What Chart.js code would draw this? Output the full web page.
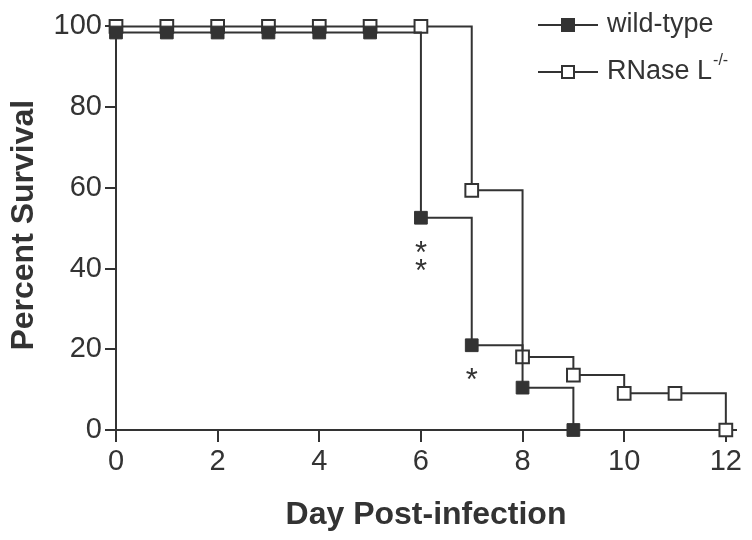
<!DOCTYPE html>
<html>
<head>
<meta charset="utf-8">
<script src="https://cdn.jsdelivr.net/npm/chart.js@4/dist/chart.umd.min.js"></script>
<style>
  html, body { margin: 0; padding: 0; background: #fff; }
</style>
</head>
<body>
<canvas id="chart" width="752" height="540"></canvas>
<script>
// survival data
const wtDays = [0, 1, 2, 3, 4, 5, 6, 7, 8, 9];
const wtSurvival = [98.5, 98.5, 98.5, 98.5, 98.5, 98.5, 52.6, 21.0, 10.5, 0];
const wtStars = ["", "", "", "", "", "", "**", "*", "", ""];
const koDays = [0, 1, 2, 3, 4, 5, 6, 7, 8, 9, 10, 11, 12];
const koSurvival = [100, 100, 100, 100, 100, 100, 100, 59.4, 18.1, 13.6, 9.1, 9.1, 0];
const xTicks = [0, 2, 4, 6, 8, 10, 12];
const yTicks = [0, 20, 40, 60, 80, 100];
const seriesNames = ["wild-type", "RNase L"];

const ink = "#333333";
const FONT = "'Liberation Sans', Arial, Helvetica, sans-serif";

function toPoints(days, vals) {
  return days.map((d, i) => ({ x: d, y: vals[i] }));
}

// asterisks under the wild-type points
const starPlugin = {
  id: "stars",
  afterDatasetsDraw(chart) {
    const meta = chart.getDatasetMeta(0);
    const ctx = chart.ctx;
    ctx.save();
    ctx.fillStyle = ink;
    ctx.font = "31px " + FONT;
    ctx.textAlign = "center";
    ctx.textBaseline = "alphabetic";
    wtStars.forEach((s, i) => {
      const pt = meta.data[i];
      for (let k = 0; k < s.length; k++) {
        ctx.fillText(s[k], pt.x, pt.y + 28 + k * 18 + 17);
      }
    });
    ctx.restore();
  }
};

// legend: line with marker through it, like the original figure
const legendPlugin = {
  id: "sketchLegend",
  afterDraw(chart) {
    const ctx = chart.ctx;
    const rows = [
      { y: 25, fill: ink, name: seriesNames[0], sup: "" },
      { y: 72, fill: "#ffffff", name: seriesNames[1], sup: "-/-" }
    ];
    ctx.save();
    rows.forEach(r => {
      ctx.strokeStyle = ink;
      ctx.lineWidth = 2;
      ctx.beginPath();
      ctx.moveTo(538, r.y);
      ctx.lineTo(598, r.y);
      ctx.stroke();
      ctx.fillStyle = r.fill;
      ctx.fillRect(562, r.y - 6, 12, 12);
      ctx.strokeRect(562, r.y - 6, 12, 12);
      ctx.fillStyle = ink;
      ctx.font = "27px " + FONT;
      ctx.textAlign = "left";
      ctx.textBaseline = "middle";
      ctx.fillText(r.name, 607, r.y);
      if (r.sup) {
        const w = ctx.measureText(r.name).width;
        ctx.font = "16px " + FONT;
        ctx.fillText(r.sup, 607 + w + 1, r.y - 11);
      }
    });
    ctx.restore();
  }
};

new Chart(document.getElementById("chart"), {
  type: "line",
  data: {
    datasets: [
      {
        label: seriesNames[0],
        data: toPoints(wtDays, wtSurvival),
        stepped: true,
        borderColor: ink,
        borderWidth: 2,
        pointStyle: "rect",
        pointRadius: 9,
        pointBackgroundColor: ink,
        pointBorderColor: ink,
        pointBorderWidth: 1,
        clip: false
      },
      {
        label: seriesNames[1],
        data: toPoints(koDays, koSurvival),
        stepped: true,
        borderColor: ink,
        borderWidth: 2,
        pointStyle: "rect",
        pointRadius: 9,
        pointBackgroundColor: "#ffffff",
        pointBorderColor: ink,
        pointBorderWidth: 2,
        clip: false
      }
    ]
  },
  options: {
    responsive: false,
    animation: false,
    layout: { padding: { top: 19, right: 16, left: 0, bottom: 0 } },
    plugins: {
      legend: { display: false },
      tooltip: { enabled: false }
    },
    scales: {
      x: {
        type: "linear",
        min: 0,
        max: 12.2,
        afterBuildTicks: s => { s.ticks = xTicks.map(v => ({ value: v })); },
        afterFit: s => { s.height = 110; },
        border: { color: ink, width: 2 },
        grid: { drawOnChartArea: false, drawTicks: true, tickLength: 12, color: ink, lineWidth: 2 },
        ticks: { color: ink, font: { family: FONT, size: 29 }, padding: 3, maxRotation: 0 },
        title: {
          display: true,
          text: "Day Post-infection",
          color: ink,
          font: { family: FONT, size: 32, weight: "bold" },
          padding: { top: 0, bottom: 6 }
        }
      },
      y: {
        min: 0,
        max: 101.5,
        afterBuildTicks: s => { s.ticks = yTicks.map(v => ({ value: v })); },
        afterFit: s => { s.width = 116; },
        border: { color: ink, width: 2 },
        grid: { drawOnChartArea: false, drawTicks: true, tickLength: 11, color: ink, lineWidth: 2 },
        ticks: { color: ink, font: { family: FONT, size: 29 }, padding: 3 },
        title: {
          display: true,
          text: "Percent Survival",
          color: ink,
          font: { family: FONT, size: 32, weight: "bold" },
          padding: { top: 5, bottom: 0 }
        }
      }
    }
  },
  plugins: [starPlugin, legendPlugin]
});
</script>
</body>
</html>
